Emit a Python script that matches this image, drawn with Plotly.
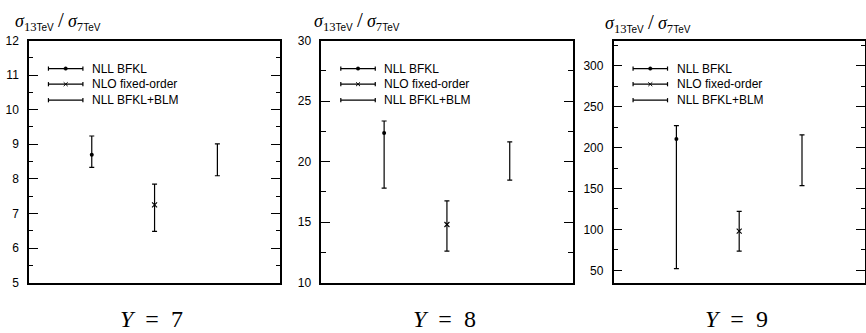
import plotly.graph_objects as go

W, H = 866, 333

# ---- data -------------------------------------------------------------
rapidities = [7, 8, 9]
methods = ["NLL BFKL", "NLO fixed-order", "NLL BFKL+BLM"]
method_pos = [1, 2, 3]

# NLL BFKL: central value and uncertainty band
bfkl_central = [8.70, 22.35, 210.5]
bfkl_low = [8.33, 17.8, 52.0]
bfkl_high = [9.24, 23.35, 227.0]

# NLO fixed-order
nlo_central = [7.25, 14.8, 98.0]
nlo_low = [6.48, 12.6, 73.5]
nlo_high = [7.85, 16.75, 122.0]

# NLL BFKL+BLM: band only
blm_low = [8.09, 18.46, 153.6]
blm_high = [9.01, 21.63, 215.6]

y_ranges = [[5, 12], [10, 30], [35, 331]]
y_dticks = [1, 5, 50]

# ---- layout geometry (pixels) -----------------------------------------
panel_left = [29.0, 321.7, 614.3]
panel_width = 251.5
panel_top, panel_bottom = 35.0, 287.7
title_left = [13.0, 312.7, 604.0]
title_mid = [15.0, 15.0, 17.0]


def fx(px):
    return px / W


def fy(py):
    return 1 - py / H


SANS = "Liberation Sans, Arial, sans-serif"
SERIF = "Liberation Serif, Times New Roman, serif"

fig = go.Figure()
shapes = []
annotations = []

for i, Y in enumerate(rapidities):
    n = i + 1
    xa = "x" if n == 1 else f"x{n}"
    ya = "y" if n == 1 else f"y{n}"

    series = [
        (bfkl_central[i], bfkl_low[i], bfkl_high[i], "circle", 4, "black"),
        (nlo_central[i], nlo_low[i], nlo_high[i], "x-thin-open", 5, "black"),
        ((blm_low[i] + blm_high[i]) / 2, blm_low[i], blm_high[i], "circle", 1,
         "rgba(0,0,0,0)"),
    ]
    for k, (c, lo, hi, sym, size, mcol) in enumerate(series):
        fig.add_trace(go.Scatter(
            x=[method_pos[k]], y=[c], mode="markers",
            name=methods[k], showlegend=False,
            xaxis=xa, yaxis=ya,
            marker=dict(symbol=sym, size=size, color=mcol,
                        line=dict(color=mcol, width=1.1 if k == 1 else 0)),
            error_y=dict(type="data", symmetric=False,
                         array=[hi - c], arrayminus=[c - lo],
                         color="black", thickness=1.2, width=2.5),
        ))

    left = panel_left[i]
    right = min(left + panel_width, W)
    dom_x = [fx(left), min(fx(right), 1.0)]
    dom_y = [fy(panel_bottom), fy(panel_top)]

    fig.update_layout(**{
        ("xaxis" if n == 1 else f"xaxis{n}"): dict(
            domain=dom_x, range=[0, 4], anchor=ya,
            showticklabels=False, ticks="", showgrid=False, zeroline=False,
            showline=True, mirror=True, linecolor="black", linewidth=1.5,
            fixedrange=True,
        ),
        ("yaxis" if n == 1 else f"yaxis{n}"): dict(
            domain=dom_y, range=y_ranges[i], anchor=xa,
            tick0=0, dtick=y_dticks[i],
            ticks="inside", ticklen=9, tickwidth=1.3, tickcolor="black",
            minor=dict(tick0=0, dtick=y_dticks[i] / 2, ticks="inside",
                       ticklen=4.5, tickwidth=1.3, tickcolor="black",
                       showgrid=False),
            showgrid=False, zeroline=False,
            showline=True, mirror="ticks", linecolor="black", linewidth=1.5,
            tickfont=dict(family=SANS, size=12, color="black"),
            ticklabelstandoff=6, fixedrange=True,
        ),
    })

    # key inside each panel
    row_offsets = [29.3, 45.6, 62.3]
    x_a, x_b = left + 19.5, left + 54.0
    x_c = (x_a + x_b) / 2
    for k, dy in enumerate(row_offsets):
        cy = panel_top + dy
        line = dict(color="black", width=1.2)
        shapes.append(dict(type="line", xref="paper", yref="paper",
                           x0=fx(x_a), x1=fx(x_b), y0=fy(cy), y1=fy(cy), line=line))
        for xe in (x_a, x_b):
            shapes.append(dict(type="line", xref="paper", yref="paper",
                               x0=fx(xe), x1=fx(xe), y0=fy(cy - 2.2), y1=fy(cy + 2.2),
                               line=line))
        if k == 0:
            shapes.append(dict(type="circle", xref="paper", yref="paper",
                               x0=fx(x_c - 1.8), x1=fx(x_c + 1.8),
                               y0=fy(cy + 1.8), y1=fy(cy - 1.8),
                               fillcolor="black", line=dict(color="black", width=0.5)))
        elif k == 1:
            for s in (-1, 1):
                shapes.append(dict(type="line", xref="paper", yref="paper",
                                   x0=fx(x_c - 2), x1=fx(x_c + 2),
                                   y0=fy(cy - 2 * s), y1=fy(cy + 2 * s),
                                   line=dict(color="black", width=1)))
        annotations.append(dict(
            xref="paper", yref="paper", x=fx(left + 61), y=fy(cy),
            xanchor="left", yanchor="middle", showarrow=False,
            text=methods[k], font=dict(family=SANS, size=12, color="black"),
        ))

    # ratio label above the panel
    tev = f'<span style="font-family:{SANS};font-size:10px">TeV</span>'
    ratio = (f'<i>σ</i><sub>13{tev}</sub>'
             f'<span style="font-size:21px">\u2009/\u2009</span>'
             f'<i>σ</i><sub>7{tev}</sub>')
    annotations.append(dict(
        xref="paper", yref="paper", x=fx(title_left[i]), y=fy(title_mid[i]),
        xanchor="left", yanchor="middle", showarrow=False,
        text=ratio, font=dict(family=SERIF, size=18, color="black"),
    ))

    # rapidity label under the panel
    annotations.append(dict(
        xref="paper", yref="paper", x=fx(left + 123), y=fy(326),
        xanchor="center", yanchor="middle", showarrow=False,
        text=f"<i>Y</i>\u2002=\u2002{Y}",
        font=dict(family=SERIF, size=24, color="black"),
    ))

fig.update_layout(
    width=W, height=H,
    margin=dict(l=0, r=0, t=0, b=0),
    paper_bgcolor="white", plot_bgcolor="white",
    showlegend=False,
    shapes=shapes, annotations=annotations,
)

fig.write_html("out.html")
